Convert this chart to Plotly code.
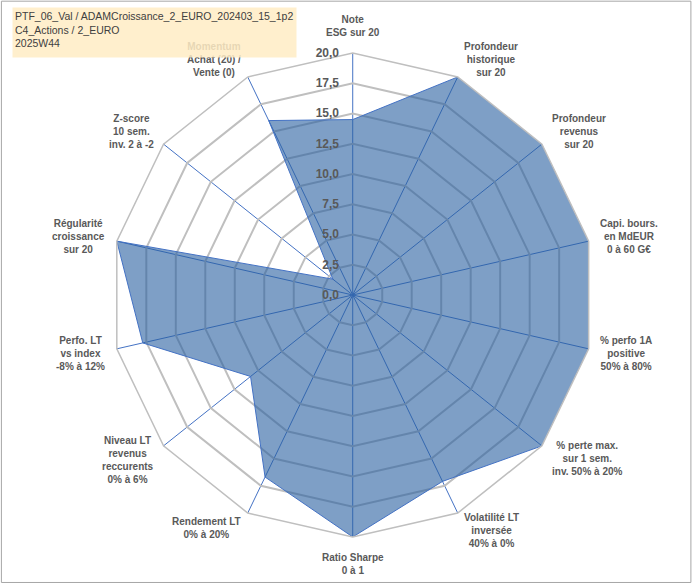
import math
import plotly.graph_objects as go

# axes of the radar, clockwise from the top
categories = [
    "Note<br>ESG sur 20",
    "Profondeur<br>historique<br>sur 20",
    "Profondeur<br>revenus<br>sur 20",
    "Capi. bours.<br>en MdEUR<br>0 à 60 G€",
    "% perfo 1A<br>positive<br>50% à 80%",
    "% perte max.<br>sur 1 sem.<br>inv. 50% à 20%",
    "Volatilité LT<br>inversée<br>40% à 0%",
    "Ratio Sharpe<br>0 à 1",
    "Rendement LT<br>0% à 20%",
    "Niveau LT<br>revenus<br>reccurents<br>0% à 6%",
    "Perfo. LT<br>vs index<br>-8% à 12%",
    "Régularité<br>croissance<br>sur 20",
    "Z-score<br>10 sem.<br>inv. 2 à -2",
    "Momentum<br>Achat (20) /<br>Vente (0)",
]
scores = [14.5, 20, 20, 20, 20, 20, 17.1, 20, 16.7, 10.8, 17.8, 20, 2.1, 16.0]

title_lines = ["PTF_06_Val / ADAMCroissance_2_EURO_202403_15_1p2", "C4_Actions / 2_EURO", "2025W44"]

W, H = 700, 586
dom_x = [0.1582, 0.8496]
dom_y = [0.0836, 0.9096]

fig = go.Figure()
fig.add_trace(go.Scatterpolar(
    r=scores + scores[:1],
    theta=categories + categories[:1],
    mode="lines",
    fill="toself",
    fillcolor="rgba(40,95,160,0.6)",
    line=dict(color="#4472C4", width=1),
    hoverinfo="skip",
))

txt = "#595959"
fig.update_layout(
    width=W, height=H,
    margin=dict(l=0, r=0, t=0, b=0),
    paper_bgcolor="white",
    separators=", ",
    showlegend=False,
    font=dict(family="Liberation Sans", color=txt),
    polar=dict(
        domain=dict(x=dom_x, y=dom_y),
        bgcolor="white",
        gridshape="linear",
        radialaxis=dict(
            range=[0, 20], dtick=2.5, tickformat=".1f",
            angle=90, tickangle=90, side="counterclockwise",
            showline=False, ticks="outside", ticklen=9, tickcolor="rgba(0,0,0,0)",
            gridcolor="#BFBFBF", gridwidth=1.5,
            tickfont=dict(size=12, color=txt, weight="bold"),
        ),
        angularaxis=dict(
            direction="clockwise", rotation=90,
            gridcolor="#4472C4", gridwidth=1,
            linecolor="#BFBFBF", linewidth=1.5,
            showticklabels=False, ticks="",
        ),
    ),
)

# category labels, centred lines, placed just outside the outer ring
cx = (dom_x[0] + dom_x[1]) / 2 * W
cy = (dom_y[0] + dom_y[1]) / 2 * H
R = (dom_x[1] - dom_x[0]) / 2 * W
for i, lab in enumerate(categories):
    a = math.radians(90 - i * 360 / len(categories))
    c, s = math.cos(a), math.sin(a)
    nlines = lab.count("<br>") + 1
    if c > 0.3:
        xa, pad, k = "left", 10, 0.5
    elif c < -0.3:
        xa, pad, k = "right", 10, 0.5
    else:
        xa, pad, k = "center", 14, 1.0
    fig.add_annotation(xref="paper", yref="paper",
                       x=(cx + (R + pad) * c) / W, y=(cy + (R + pad) * s) / H,
                       text=lab, showarrow=False, align="center",
                       xanchor=xa, yanchor="middle", yshift=k * s * nlines * 13 / 2,
                       font=dict(size=10, color=txt, weight="bold"))

# title box in the upper left corner (drawn last, it veils the label below it)
fig.add_annotation(xref="paper", yref="paper", x=12/W, y=1-7/H,
                   xanchor="left", yanchor="top", width=279, height=45,
                   align="left", valign="top", borderpad=2,
                   bgcolor="rgba(255,236,196,0.85)",
                   text="<br>".join(title_lines), showarrow=False,
                   font=dict(size=10.5, color="#404040", family="Liberation Sans"))

# outer frame
fig.add_shape(type="rect", xref="paper", yref="paper",
              x0=0.002, x1=0.987, y0=0.006, y1=0.998,
              line=dict(color="#A6A6A6", width=1), fillcolor="rgba(0,0,0,0)")

fig.write_html("out.html", config={"displayModeBar": False},
               post_script="document.body.style.margin='0px';")
